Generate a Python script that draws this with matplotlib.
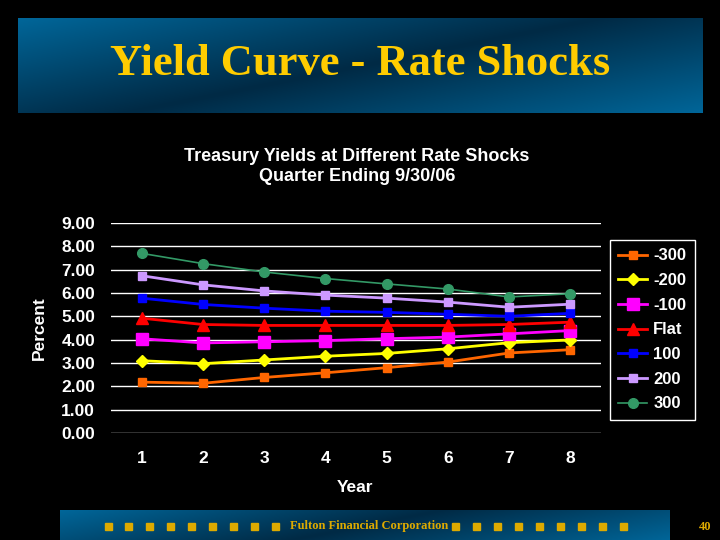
import numpy as np
import matplotlib
matplotlib.use('Agg')
from matplotlib import pyplot as plt
from matplotlib.colors import LinearSegmentedColormap

# data
years = [1, 2, 3, 4, 5, 6, 7, 8]
labels = ['-300', '-200', '-100', 'Flat', '100', '200', '300']
m300 = [2.18, 2.13, 2.38, 2.58, 2.80, 3.04, 3.43, 3.57]
m200 = [3.10, 2.97, 3.13, 3.29, 3.41, 3.61, 3.87, 3.99]
m100 = [4.04, 3.86, 3.91, 3.96, 4.04, 4.11, 4.25, 4.39]
flat = [4.92, 4.65, 4.61, 4.61, 4.61, 4.61, 4.65, 4.75]
p100 = [5.78, 5.51, 5.35, 5.22, 5.17, 5.09, 5.00, 5.13]
p200 = [6.74, 6.35, 6.09, 5.91, 5.78, 5.61, 5.39, 5.52]
p300 = [7.70, 7.26, 6.90, 6.62, 6.39, 6.17, 5.83, 5.97]
yticks = [0, 1, 2, 3, 4, 5, 6, 7, 8, 9]

series = [m300, m200, m100, flat, p100, p200, p300]
colors = ['#FF6600', '#FFFF00', '#FF00FF', '#FF0000', '#0000FF', '#CC99FF', '#339966']
markers = ['s', 'D', 's', '^', 's', 's', 'o']
msizes = [6, 6, 9, 9, 6, 6, 7]
lws = [2, 2, 2, 2, 2, 2, 1.2]

W, H = 720, 540
fig = plt.figure(figsize=(7.2, 5.4), dpi=100, facecolor='black')

cmap = LinearSegmentedColormap.from_list('band', ['#002a45', '#006699'])


def gradient_box(x0, y0, x1, y1):
    # y in pixels from top
    w, h = x1 - x0, y1 - y0
    px, py = np.meshgrid(np.arange(w), np.arange(h))
    d = (px - w / 2) * 0.196 + (py - h / 2) * 0.98
    g = np.abs(d) / np.abs(d).max()
    ax = fig.add_axes([x0 / W, 1 - y1 / H, w / W, h / H])
    ax.imshow(g, cmap=cmap, aspect='auto', vmin=0, vmax=1)
    ax.axis('off')
    return ax


gradient_box(18, 18, 703, 113)
fig.text(360 / W, 1 - 64 / H, 'Yield Curve - Rate Shocks', color='#FFCC00',
         fontsize=32, fontweight='bold', family='Liberation Serif',
         ha='center', va='center')

# footer
gradient_box(60, 510, 670, 540)
sq_left = [108 + 20.9 * i for i in range(9)]
sq_right = [455 + 21.0 * i for i in range(9)]
for sx in sq_left + sq_right:
    fig.patches.append(plt.Rectangle(((sx - 3.5) / W, 1 - 529.5 / H), 7 / W, 7 / H,
                                     transform=fig.transFigure, color='#DDAA00'))
fig.text(369 / W, 1 - 526 / H, 'Fulton Financial Corporation', color='#DDAA00',
         fontsize=9, fontweight='bold', family='Liberation Serif', ha='center', va='center')
fig.text(705 / W, 1 - 527 / H, '40', color='#DDAA00', fontsize=9, fontweight='bold',
         family='Liberation Serif', ha='center', va='center')

# chart
ax = fig.add_axes([111 / W, 1 - 433 / H, 490 / W, 210 / H])
ax.set_facecolor('black')
for s, c, m, ms, lw, lab in zip(series, colors, markers, msizes, lws, labels):
    ax.plot(years, s, color=c, marker=m, markersize=ms, lw=lw, label=lab)
ax.set_xlim(0.5, 8.5)
ax.set_ylim(0, 9)
ax.set_yticks(yticks)
ax.set_yticklabels(['%.2f' % v for v in yticks])
ax.set_xticks(years)
ax.grid(axis='y', color='white', lw=1)
ax.set_axisbelow(True)
for sp in ax.spines.values():
    sp.set_visible(False)
ax.tick_params(length=0, colors='white', labelsize=12.5)
ax.tick_params(axis='y', pad=11.5)
ax.tick_params(axis='x', pad=13)
for t in ax.get_xticklabels() + ax.get_yticklabels():
    t.set_fontweight('bold')
    t.set_family('Liberation Sans')

fig.text(357 / W, 1 - 166.5 / H, 'Treasury Yields at Different Rate Shocks\nQuarter Ending 9/30/06',
         color='white', fontsize=13, fontweight='bold', family='Liberation Sans',
         ha='center', va='center', linespacing=1.2)
fig.text(39 / W, 1 - 328 / H, 'Percent', color='white', fontsize=12.5, fontweight='bold',
         family='Liberation Sans', rotation=90, ha='center', va='center')
fig.text(355 / W, 1 - 487 / H, 'Year', color='white', fontsize=12.5, fontweight='bold',
         family='Liberation Sans', ha='center', va='center')

leg = ax.legend(loc='upper left', bbox_to_anchor=(610 / W, 1 - 240 / H),
                bbox_transform=fig.transFigure, borderaxespad=0, frameon=True,
                fancybox=False, facecolor='black', edgecolor='white', framealpha=1,
                handlelength=1.7, labelspacing=0.58, borderpad=0.5, handletextpad=0.4,
                prop={'family': 'Liberation Sans', 'weight': 'bold', 'size': 12})
for t in leg.get_texts():
    t.set_color('white')

fig.savefig('out.png', dpi=100, facecolor='black')
